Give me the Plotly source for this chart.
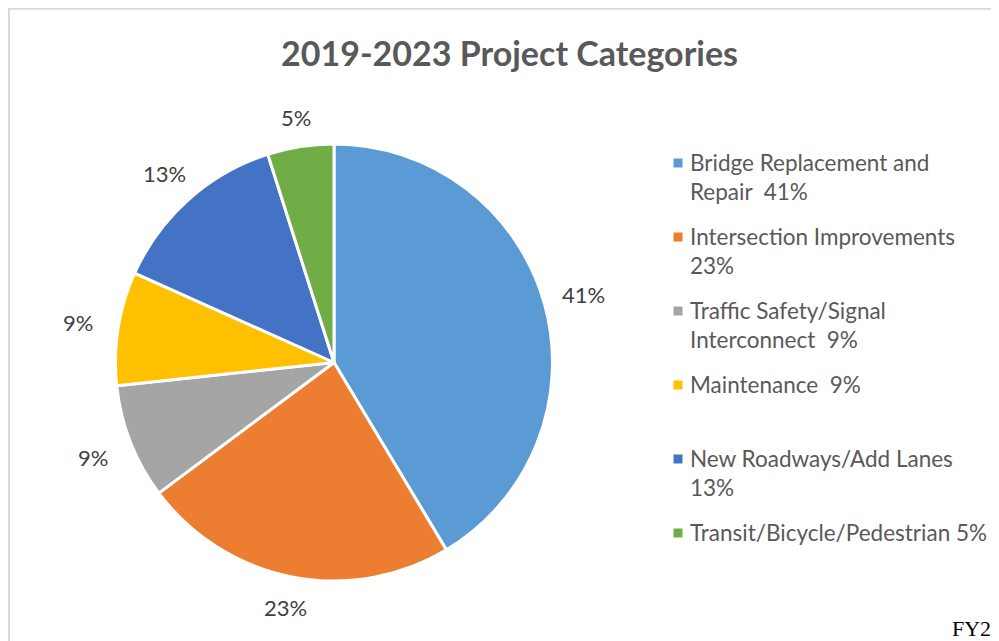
import math
import plotly.graph_objects as go

# ---- data ----
categories = [
    "Bridge Replacement and Repair",
    "Intersection Improvements",
    "Traffic Safety/Signal Interconnect",
    "Maintenance",
    "New Roadways/Add Lanes",
    "Transit/Bicycle/Pedestrian",
]
values = [41.4, 23.4, 8.5, 8.4, 13.4, 4.9]
pct_labels = ["41%", "23%", "9%", "9%", "13%", "5%"]
legend_texts = [
    "Bridge Replacement and<br>Repair  41%",
    "Intersection Improvements<br>23%",
    "Traffic Safety/Signal<br>Interconnect  9%",
    "Maintenance  9%",
    "New Roadways/Add Lanes<br>13%",
    "Transit/Bicycle/Pedestrian 5%",
]
colors = ["#5B9BD5", "#ED7D31", "#A5A5A5", "#FFC000", "#4472C4", "#70AD47"]

# ---- layout geometry ----
# the page body has an 8px margin, so the figure starts at (8, 8) of the window
OFF = 8
W, H = 999 - OFF, 641 - OFF
FONT = "Lato"


def px_x(x):
    return (x - OFF) / W


def px_y(y):
    return 1 - (y - OFF) / H


CX, CY, R = 334, 362.5, 218.5  # window pixels
dom_x = [px_x(CX - R), px_x(CX + R)]
dom_y = [px_y(CY + R), px_y(CY - R)]

fig = go.Figure()
fig.add_trace(go.Pie(
    labels=categories,
    values=values,
    text=pct_labels,
    sort=False,
    direction="clockwise",
    rotation=0,
    textinfo="none",
    hovertemplate="%{label}: %{text}<extra></extra>",
    marker=dict(colors=colors, line=dict(color="white", width=3)),
    domain=dict(x=dom_x, y=dom_y),
    showlegend=False,
))

annotations = []
# data labels outside each slice, placed at the slice mid-angle
total = sum(values)
cum = 0.0
for v, lab in zip(values, pct_labels):
    mid = (cum + v / 2) / total * 2 * math.pi
    cum += v
    s, c = math.sin(mid), math.cos(mid)
    rl = R + 28 + 13 * abs(s)
    annotations.append(dict(
        x=px_x(CX + rl * s), y=px_y(CY - rl * c + 1), xref="paper", yref="paper",
        text=lab, showarrow=False, xanchor="center", yanchor="middle",
        font=dict(family=FONT, size=22, color="#404040"),
    ))

# legend
shapes = []
LEG_X, LEG_Y0, PITCH, SQ = 678, 163, 74, 9
for i, (t, col) in enumerate(zip(legend_texts, colors)):
    yc = LEG_Y0 + i * PITCH
    shapes.append(dict(
        type="rect", xref="paper", yref="paper",
        x0=px_x(LEG_X - SQ / 2), x1=px_x(LEG_X + SQ / 2),
        y0=px_y(yc + SQ / 2), y1=px_y(yc - SQ / 2),
        fillcolor=col, line=dict(width=0),
    ))
    annotations.append(dict(
        x=px_x(688), y=px_y(yc - 16), xref="paper", yref="paper",
        text=t, showarrow=False, xanchor="left", yanchor="top", align="left",
        font=dict(family=FONT, size=22.5, color="#595959"),
    ))

# title
annotations.append(dict(
    x=px_x(509), y=px_y(52), xref="paper", yref="paper",
    text="<b>2019-2023 Project Categories</b>", showarrow=False,
    xanchor="center", yanchor="middle",
    font=dict(family=FONT, size=34, color="#595959"),
))

# footer fragment (cut by the window edge in the original)
annotations.append(dict(
    x=px_x(950), y=px_y(628), xref="paper", yref="paper",
    text="FY20", showarrow=False, xanchor="left", yanchor="middle",
    font=dict(family="Liberation Serif", size=22, color="#000000"),
))

# chart-area border (light gray)
shapes.append(dict(
    type="rect", xref="paper", yref="paper",
    x0=0.001, x1=1.02, y0=-0.02, y1=0.999,
    line=dict(color="#D9D9D9", width=2), fillcolor="rgba(0,0,0,0)",
))

fig.update_layout(
    width=W, height=H,
    margin=dict(l=0, r=0, t=0, b=0),
    paper_bgcolor="white", plot_bgcolor="white",
    annotations=annotations, shapes=shapes,
)

fig.write_html("out.html")
